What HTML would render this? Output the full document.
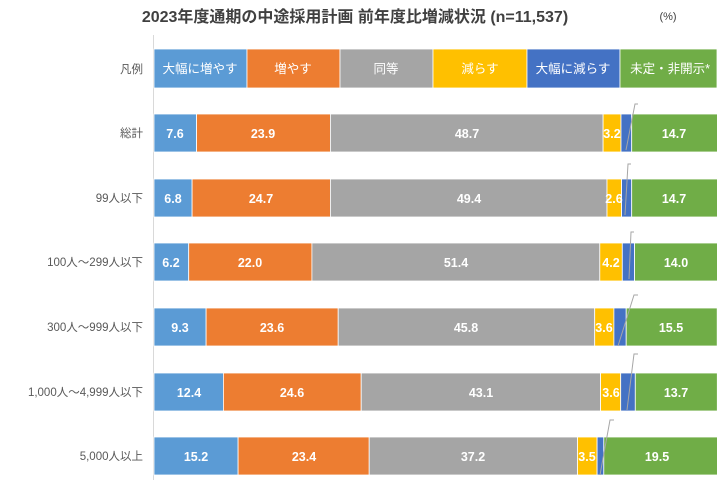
<!DOCTYPE html>
<html><head><meta charset="utf-8"><style>
html,body{margin:0;padding:0;background:#fff;}
svg{display:block;font-family:"Liberation Sans","Noto Sans CJK JP",sans-serif;}
.v{fill:#fff;font-family:"Liberation Sans Narrow","Liberation Sans",sans-serif;font-weight:bold;font-size:12.5px;text-anchor:middle;}
.l{fill:#fff;font-size:12.5px;text-anchor:middle;}
.c{fill:#595959;font-size:11.5px;text-anchor:end;}
rect{stroke:#fff;stroke-width:0.8;}
</style></head><body>
<svg width="717" height="480" viewBox="0 0 717 480">
<text x="355" y="22" text-anchor="middle" font-size="16" font-weight="bold" fill="#404040">2023年度通期の中途採用計画  前年度比増減状況 (n=11,537)</text>
<text x="668" y="20" text-anchor="middle" font-size="11" fill="#404040">(%)</text>
<line x1="153.5" y1="35" x2="153.5" y2="480" stroke="#d9d9d9" stroke-width="1"/>
<!-- legend -->
<g>
<rect x="154" y="49" width="93" height="39" fill="#5B9BD5"/>
<rect x="247" y="49" width="93" height="39" fill="#ED7D31"/>
<rect x="340" y="49" width="93" height="39" fill="#A5A5A5"/>
<rect x="433" y="49" width="94" height="39" fill="#FFC000"/>
<rect x="527" y="49" width="93" height="39" fill="#4472C4"/>
<rect x="620" y="49" width="97" height="39" fill="#70AD47"/>
<text class="l" x="200" y="73">大幅に増やす</text>
<text class="l" x="293" y="73">増やす</text>
<text class="l" x="386" y="73">同等</text>
<text class="l" x="480" y="73">減らす</text>
<text class="l" x="573" y="73">大幅に減らす</text>
<text class="l" x="670" y="73">未定・非開示*</text>
<text class="c" x="143" y="73">凡例</text>
</g>
<!-- 総計 -->
<g>
<rect x="154" y="114" width="42.6" height="38" fill="#5B9BD5"/>
<rect x="196.6" y="114" width="133.8" height="38" fill="#ED7D31"/>
<rect x="330.4" y="114" width="272.7" height="38" fill="#A5A5A5"/>
<rect x="603.1" y="114" width="17.9" height="38" fill="#FFC000"/>
<rect x="621" y="114" width="10.7" height="38" fill="#4472C4"/>
<rect x="631.7" y="114" width="86" height="38" fill="#70AD47"/>
<text class="c" x="143" y="137">総計</text>
<text class="v" x="175" y="138">7.6</text><text class="v" x="263" y="138">23.9</text><text class="v" x="467" y="138">48.7</text><text class="v" x="612" y="138">3.2</text><text class="v" x="674" y="138">14.7</text>
<polyline points="626,150 635,104 638,104" fill="none" stroke="#a6a6a6" stroke-width="1"/>
</g>
<!-- 99 -->
<g>
<rect x="154" y="179" width="38.1" height="38" fill="#5B9BD5"/>
<rect x="192.1" y="179" width="138.3" height="38" fill="#ED7D31"/>
<rect x="330.4" y="179" width="276.6" height="38" fill="#A5A5A5"/>
<rect x="607" y="179" width="14.6" height="38" fill="#FFC000"/>
<rect x="621.6" y="179" width="10.1" height="38" fill="#4472C4"/>
<rect x="631.7" y="179" width="86" height="38" fill="#70AD47"/>
<text class="c" x="143" y="202">99人以下</text>
<text class="v" x="173" y="203">6.8</text><text class="v" x="261" y="203">24.7</text><text class="v" x="469" y="203">49.4</text><text class="v" x="614" y="203">2.6</text><text class="v" x="674" y="203">14.7</text>
<polyline points="625,215 628,164 631,164" fill="none" stroke="#a6a6a6" stroke-width="1"/>
</g>
<!-- 100-299 -->
<g>
<rect x="154" y="243" width="34.7" height="38" fill="#5B9BD5"/>
<rect x="188.7" y="243" width="123.2" height="38" fill="#ED7D31"/>
<rect x="311.9" y="243" width="287.9" height="38" fill="#A5A5A5"/>
<rect x="599.8" y="243" width="22.5" height="38" fill="#FFC000"/>
<rect x="622.3" y="243" width="12.3" height="38" fill="#4472C4"/>
<rect x="634.6" y="243" width="83" height="38" fill="#70AD47"/>
<text class="c" x="143" y="266">100人～299人以下</text>
<text class="v" x="171" y="267">6.2</text><text class="v" x="250" y="267">22.0</text><text class="v" x="456" y="267">51.4</text><text class="v" x="611" y="267">4.2</text><text class="v" x="676" y="267">14.0</text>
<polyline points="629,279 631,232 634,232" fill="none" stroke="#a6a6a6" stroke-width="1"/>
</g>
<!-- 300-999 -->
<g>
<rect x="154" y="308" width="52.1" height="38" fill="#5B9BD5"/>
<rect x="206.1" y="308" width="132.1" height="38" fill="#ED7D31"/>
<rect x="338.2" y="308" width="256.5" height="38" fill="#A5A5A5"/>
<rect x="594.7" y="308" width="19.2" height="38" fill="#FFC000"/>
<rect x="613.9" y="308" width="12.3" height="38" fill="#4472C4"/>
<rect x="626.2" y="308" width="91" height="38" fill="#70AD47"/>
<text class="c" x="143" y="331">300人～999人以下</text>
<text class="v" x="180" y="332">9.3</text><text class="v" x="272" y="332">23.6</text><text class="v" x="466" y="332">45.8</text><text class="v" x="604" y="332">3.6</text><text class="v" x="671" y="332">15.5</text>
<polyline points="618,346 634,295 638,295" fill="none" stroke="#a6a6a6" stroke-width="1"/>
</g>
<!-- 1000-4999 -->
<g>
<rect x="154" y="373" width="69.4" height="38" fill="#5B9BD5"/>
<rect x="223.4" y="373" width="137.8" height="38" fill="#ED7D31"/>
<rect x="361.2" y="373" width="239.4" height="38" fill="#A5A5A5"/>
<rect x="600.6" y="373" width="20.1" height="38" fill="#FFC000"/>
<rect x="620.7" y="373" width="14.6" height="38" fill="#4472C4"/>
<rect x="635.3" y="373" width="82" height="38" fill="#70AD47"/>
<text class="c" x="143" y="396">1,000人～4,999人以下</text>
<text class="v" x="189" y="397">12.4</text><text class="v" x="292" y="397">24.6</text><text class="v" x="481" y="397">43.1</text><text class="v" x="611" y="397">3.6</text><text class="v" x="676" y="397">13.7</text>
<polyline points="627,410 634,354 638,354" fill="none" stroke="#a6a6a6" stroke-width="1"/>
</g>
<!-- 5000 -->
<g>
<rect x="154" y="437" width="84.1" height="38" fill="#5B9BD5"/>
<rect x="238.1" y="437" width="131.1" height="38" fill="#ED7D31"/>
<rect x="369.2" y="437" width="208.3" height="38" fill="#A5A5A5"/>
<rect x="577.5" y="437" width="19.6" height="38" fill="#FFC000"/>
<rect x="597.1" y="437" width="6.7" height="38" fill="#4472C4"/>
<rect x="603.8" y="437" width="114" height="38" fill="#70AD47"/>
<text class="c" x="143" y="460">5,000人以上</text>
<text class="v" x="196" y="461">15.2</text><text class="v" x="304" y="461">23.4</text><text class="v" x="473" y="461">37.2</text><text class="v" x="587" y="461">3.5</text><text class="v" x="657" y="461">19.5</text>
<polyline points="600,475 610,420 614,420" fill="none" stroke="#a6a6a6" stroke-width="1"/>
</g>
</svg>
</body></html>
